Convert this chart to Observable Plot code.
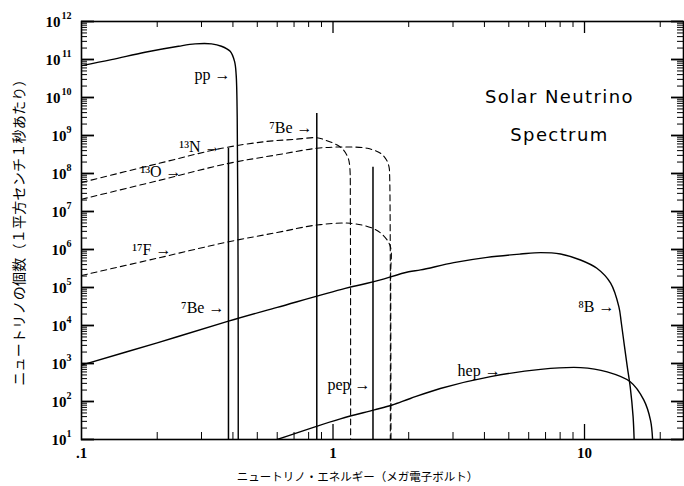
<!DOCTYPE html>
<html><head><meta charset="utf-8">
<script src="https://cdn.jsdelivr.net/npm/d3@7"></script>
<script src="https://cdn.jsdelivr.net/npm/@observablehq/plot@0.6"></script>
<style>body{margin:0;background:#fff}</style>
</head><body><div id="chart"></div>
<script>
// ---- data (energy in MeV, flux per cm^2 per s [per MeV]) ----
const ppE  = [0.1, 0.1315, 0.179, 0.243, 0.283, 0.329, 0.360, 0.390, 0.406, 0.412, 0.416, 0.4195, 0.42];
const ppF  = [6.9e10, 9.9e10, 1.55e11, 2.23e11, 2.57e11, 2.57e11, 2.23e11, 1.64e11, 8.9e10, 4.0e10, 3e9, 1e5, 10];

const n13E = [0.1, 0.2, 0.361, 0.537, 0.7, 0.862, 0.946, 1.04, 1.10, 1.15, 1.166, 1.172, 1.175];
const n13F = [5.8e7, 1.8e8, 4.6e8, 6.9e8, 7.9e8, 8.7e8, 7.3e8, 5.6e8, 4.2e8, 2.5e8, 1.5e8, 1e7, 10];

const o15E = [0.1, 0.2, 0.385, 0.6, 0.862, 1.118, 1.37, 1.545, 1.63, 1.67, 1.68, 1.69];
const o15F = [2.1e7, 6.4e7, 1.85e8, 3.1e8, 4.6e8, 5.0e8, 4.6e8, 3.4e8, 2.3e8, 1.5e8, 8.3e7, 10];

const f17E = [0.1, 0.2, 0.385, 0.6, 0.862, 1.17, 1.44, 1.58, 1.69, 1.695, 1.70];
const f17F = [2.07e5, 5.9e5, 1.6e6, 2.8e6, 4.4e6, 4.9e6, 3.6e6, 2.4e6, 1.2e6, 2e5, 10];

const b8E  = [0.1, 0.2, 0.384, 0.6, 1.118, 1.44, 2.0, 2.23, 3.02, 4.1, 5.57, 6.69, 8.03, 9.64, 11.2, 12.7, 13.7, 14.0, 14.4, 14.8, 15.2, 15.6, 15.75];
const b8F  = [9.1e2, 3.5e3, 1.3e4, 3.0e4, 9.5e4, 1.4e5, 2.6e5, 2.9e5, 4.5e5, 6.2e5, 7.6e5, 8.3e5, 7.6e5, 5.3e5, 3.2e5, 1.3e5, 3.1e4, 1.2e4, 3e3, 8e2, 2.4e2, 40, 10];

const hepE = [0.6, 1.07, 1.46, 1.72, 2.03, 2.67, 4.23, 6.69, 9.64, 12.3, 15.2, 17.2, 18.3, 18.65];
const hepF = [10, 35, 60, 81, 120, 220, 450, 700, 780, 600, 330, 110, 32, 10];

// monoenergetic lines (7Be, 7Be, pep)
const lineE = [0.384, 0.862, 1.442];
const lineF = [4.6e8, 3.8e9, 1.45e8];

// labels (arrow tip energy, flux)
const labelText = ["pp →", "¹³N →", "⁷Be →", "¹³O →", "¹⁷F →", "⁷Be →", "⁸B →", "pep →", "hep →"];
const labelE = [0.391, 0.357, 0.829, 0.25, 0.228, 0.370, 13.15, 1.41, 4.64];
const labelF = [4.06e10, 5.0e8, 1.59e9, 1.1e8, 9.8e5, 2.9e4, 3.1e4, 2.7e2, 6.4e2];

const titleLines = ["Solar Neutrino", "Spectrum"];
const titleE = [7.95, 7.95];
const titleF = [1e10, 1e9];

// axes
const xTickVals = [0.1, 1, 10];
const xTickText = [".1", "1", "10"];
const xMinorTicks = [0.2, 0.3, 0.4, 0.5, 0.6, 0.7, 0.8, 0.9, 2, 3, 4, 5, 6, 7, 8, 9, 20];
const yExps = [1, 2, 3, 4, 5, 6, 7, 8, 9, 10, 11, 12];
const yMinorMult = [2, 3, 4, 5, 6, 7, 8, 9];
const xTitle = "ニュートリノ・エネルギー（メガ電子ボルト）";
const yTitle = "ニュートリノの個数（１平方センチ１秒あたり）";

// ---- build tables ----
const series = [
  {name: "pp", E: ppE, F: ppF, dashed: false},
  {name: "13N", E: n13E, F: n13F, dashed: true},
  {name: "15O", E: o15E, F: o15F, dashed: true},
  {name: "17F", E: f17E, F: f17F, dashed: true},
  {name: "8B", E: b8E, F: b8F, dashed: false},
  {name: "hep", E: hepE, F: hepF, dashed: false}
];
const rows = series.flatMap(s => s.E.map((e, i) => ({name: s.name, E: e, F: s.F[i], dashed: s.dashed})));
const solid = rows.filter(r => !r.dashed);
const dashed = rows.filter(r => r.dashed);
const lines = lineE.map((e, i) => ({E: e, F: lineF[i]}));
const labels = labelText.map((t, i) => ({t, E: labelE[i], F: labelF[i]}));
const titles = titleLines.map((t, i) => ({t, E: titleE[i], F: titleF[i]}));
const yMajor = yExps.map(e => 10 ** e);
const yMinor = yExps.slice(0, -1).flatMap(e => yMinorMult.map(m => m * 10 ** e));

const FW = 602, FH = 418;
const serif = "'Liberation Serif', 'DejaVu Serif', serif";

const chart = Plot.plot({
  width: 684, height: 486,
  marginLeft: 81, marginRight: 1, marginTop: 21, marginBottom: 47,
  x: {type: "log", domain: [0.1, 24.75], axis: null},
  y: {type: "log", domain: [10, 1e12], axis: null},
  style: {background: "white", fontFamily: serif, color: "black"},
  marks: [
    // ticks
    Plot.ruleX(xMinorTicks, {x: d => d, insetTop: FH - 7, stroke: "black", strokeWidth: 1}),
    Plot.ruleX(xTickVals.slice(1), {x: d => d, insetTop: FH - 15, stroke: "black", strokeWidth: 1.3}),
    Plot.ruleX(xMinorTicks, {x: d => d, insetBottom: FH - 6, stroke: "black", strokeWidth: 1}),
    Plot.ruleX(xTickVals.slice(1), {x: d => d, insetBottom: FH - 12, stroke: "black", strokeWidth: 1.3}),
    Plot.ruleY(yMajor, {y: d => d, insetRight: FW - 13, stroke: "black", strokeWidth: 1.8}),
    Plot.ruleY(yMinor, {y: d => d, insetRight: FW - 6, stroke: "black", strokeWidth: 1}),
    Plot.ruleY(yMajor, {y: d => d, insetLeft: FW - 12, stroke: "black", strokeWidth: 1.8}),
    Plot.ruleY(yMinor, {y: d => d, insetLeft: FW - 6, stroke: "black", strokeWidth: 1}),
    // monoenergetic lines
    Plot.ruleX(lines, {x: "E", y1: 10, y2: "F", stroke: "black", strokeWidth: 1.5}),
    // continuous spectra
    Plot.line(solid, {x: "E", y: "F", z: "name", curve: "catmull-rom", stroke: "black", strokeWidth: 1.4, clip: true}),
    Plot.line(dashed, {x: "E", y: "F", z: "name", curve: "catmull-rom", stroke: "black", strokeWidth: 1.1, strokeDasharray: "6,4", clip: true}),
    Plot.frame({stroke: "black", strokeWidth: 1.6}),
    // labels
    Plot.text(labels, {x: "E", y: "F", text: "t", textAnchor: "end", lineAnchor: "middle", fontSize: 16, fill: "black"}),
    Plot.text(titles, {x: "E", y: "F", text: "t", textAnchor: "middle", lineAnchor: "middle", fontSize: 18, fontFamily: "'DejaVu Sans', sans-serif", fill: "black"}),
    // y tick labels
    Plot.text(yExps.filter(e => e < 10), {y: e => 10 ** e, text: () => "10", frameAnchor: "left", textAnchor: "end", lineAnchor: "middle", dx: -15, dy: 1, fontSize: 15, fontWeight: "bold"}),
    Plot.text(yExps.filter(e => e >= 10), {y: e => 10 ** e, text: () => "10", frameAnchor: "left", textAnchor: "end", lineAnchor: "middle", dx: -21, dy: 1, fontSize: 15, fontWeight: "bold"}),
    Plot.text(yExps, {y: e => 10 ** e, text: e => String(e), frameAnchor: "left", textAnchor: "end", lineAnchor: "middle", dx: -10, dy: -5.5, fontSize: 10, fontWeight: "bold"}),
    // x tick labels
    Plot.text(xTickVals, {x: d => d, text: (d, i) => xTickText[i], frameAnchor: "bottom", textAnchor: "middle", lineAnchor: "middle", dy: 14, fontSize: 15, fontWeight: "bold"}),
    // axis titles
    Plot.text([xTitle], {text: d => d, frameAnchor: "bottom", textAnchor: "middle", lineAnchor: "middle", dx: -25, dy: 38, fontSize: 11.5, fontFamily: "'Noto Sans CJK JP', sans-serif"}),
    Plot.text([yTitle], {text: d => d, frameAnchor: "left", textAnchor: "middle", lineAnchor: "middle", dx: -62, dy: -1.5, rotate: -90, fontSize: 14, fontFamily: "'Noto Sans CJK JP', sans-serif"})
  ]
});
// letter spacing for the title block and the vertical axis title
d3.select(chart).selectAll("text").each(function() {
  const t = this.textContent;
  if (titleLines.includes(t)) this.setAttribute("letter-spacing", "1.4");
  if (t === yTitle) this.setAttribute("letter-spacing", "0.25");
});
document.getElementById("chart").append(chart);
</script></body></html>
